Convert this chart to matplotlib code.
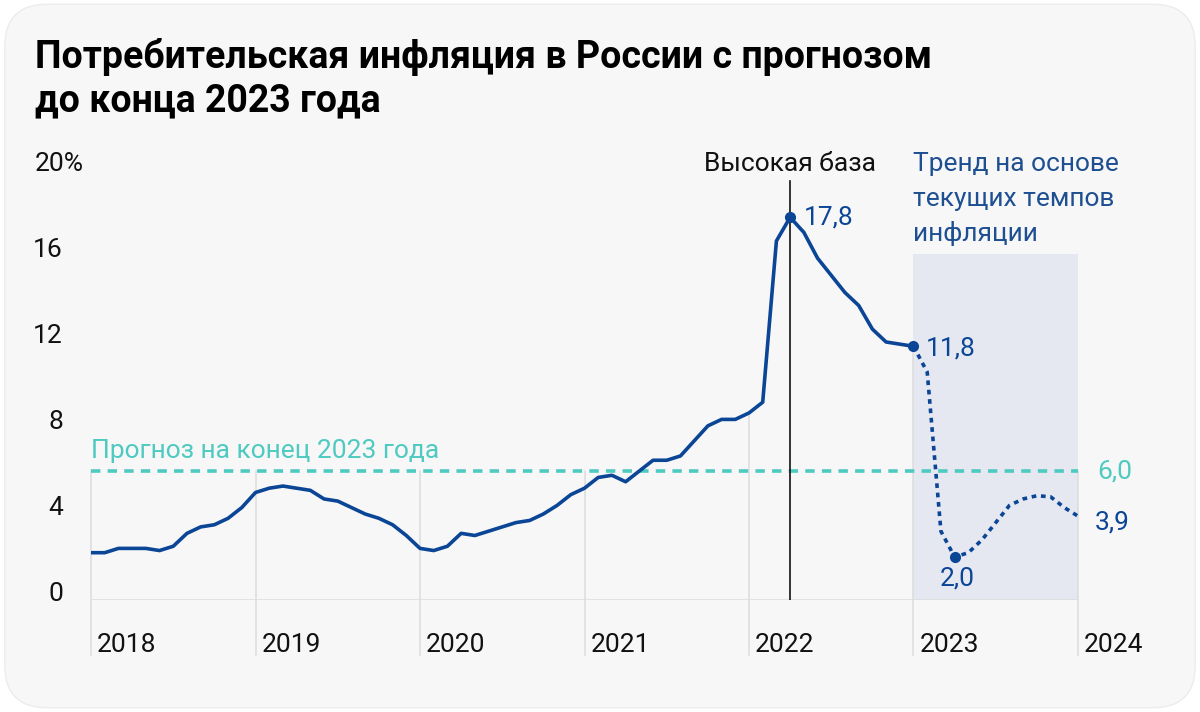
import matplotlib
matplotlib.use("Agg")
import matplotlib.pyplot as plt
from matplotlib.patches import FancyBboxPatch, Rectangle

plt.rcParams['font.family'] = ['Roboto', 'DejaVu Sans']

# ---- data ----
title = "Потребительская инфляция в России с прогнозом\nдо конца 2023 года"
years = ["2018", "2019", "2020", "2021", "2022", "2023", "2024"]
y_ticks = [0, 4, 8, 12, 16, 20]
y_tick_labels = ["0", "4", "8", "12", "16", "20%"]
trend_label = ["Тренд на основе", "текущих темпов", "инфляции"]

# monthly CPI y/y, Jan 2018 .. Jan 2023
actual = [2.2, 2.2, 2.4, 2.4, 2.4, 2.3, 2.5, 3.1, 3.4, 3.5, 3.8, 4.3,
          5.0, 5.2, 5.3, 5.2, 5.1, 4.7, 4.6, 4.3, 4.0, 3.8, 3.5, 3.0,
          2.4, 2.3, 2.5, 3.1, 3.0, 3.2, 3.4, 3.6, 3.7, 4.0, 4.4, 4.9,
          5.2, 5.7, 5.8, 5.5, 6.0, 6.5, 6.5, 6.7, 7.4, 8.1, 8.4, 8.4,
          8.7, 9.2, 16.7, 17.8, 17.1, 15.9, 15.1, 14.3, 13.7, 12.6, 12.0, 11.9,
          11.8]
# trend projection, Jan 2023 .. Jan 2024
trend = [11.8, 10.6, 3.2, 2.0, 2.2, 2.8, 3.6, 4.4, 4.7, 4.85, 4.8, 4.3, 3.9]
target = 6.0
shade_top = 16.1
high_base_month = 51   # Apr 2022

navy = "#0b4596"
teal = "#4ecac0"
grid = "#dcdcdc"
FS = 19

fig = plt.figure(figsize=(12, 7.12), dpi=100)
fig.patch.set_facecolor("white")
card = FancyBboxPatch((0.004, 0.006), 0.992, 0.988,
                      boxstyle="round,pad=0,rounding_size=0.035",
                      transform=fig.transFigure, facecolor="#f7f7f8",
                      edgecolor="#ececec", linewidth=1, zorder=-5,
                      mutation_aspect=1200/712)
fig.patches.append(card)

W, H = 1200, 712
PXM = (1078 - 91) / 72.0   # px per month
PXU = 21.5                 # px per percent
ax = fig.add_axes([91 / W, (H - 600) / H, (1078 - 91) / W, 430 / H])
ax.set_zorder(2)
ax.set_xlim(0, 72)
ax.set_ylim(0, 20)
ax.axis("off")

x_act = list(range(len(actual)))
x_tr = list(range(60, 60 + len(trend)))

# shaded trend region
ax.add_patch(Rectangle((60, 0), 12, shade_top, facecolor="#e5e8f1",
                       edgecolor="none", zorder=1))

# vertical year gridlines
for i, yr in enumerate(years):
    m = i * 12
    if m < len(actual):
        v = actual[m]
    else:
        v = trend[m - 60]
    top = max(v, target)
    ax.plot([m, m], [-2.55, top], color=grid, lw=1.1, zorder=1.5, clip_on=False)
    ax.text(m + 6 / PXM, -52 / PXU, yr, ha="left", va="baseline", fontsize=FS,
            color="#111111", clip_on=False)

# baseline
ax.plot([0, 72], [0, 0], color=grid, lw=1.1, zorder=1.5)

# y tick labels
for v, lab in zip(y_ticks, y_tick_labels):
    if lab.endswith("%"):
        ax.text(-56 / PXM, v - 0.05, lab, ha="left", va="baseline",
                fontsize=FS, color="#111111", clip_on=False)
    else:
        ax.text(-28 / PXM, v - 0.05, lab, ha="right", va="baseline",
                fontsize=FS, color="#111111", clip_on=False)

# target line
ax.plot([0, 72], [target, target], color=teal, lw=2.6,
        linestyle=(0, (2.6, 2.0)), zorder=2)
ax.text(0, target + 0.6, "Прогноз на конец 2023 года", ha="left",
        va="baseline", fontsize=FS, color=teal)
ax.text(72 + 19 / PXM, target, "6,0", ha="left", va="center", fontsize=FS,
        color=teal, clip_on=False)

# high base line
ax.plot([high_base_month, high_base_month], [0, 19.5], color="#111111",
        lw=1.2, zorder=3)
ax.text(high_base_month, 19.95, "Высокая база", ha="center", va="baseline",
        fontsize=FS, color="#111111", clip_on=False)

# series
ax.plot(x_act, actual, color=navy, lw=2.6, zorder=4, solid_joinstyle="round")
ax.plot(x_tr, trend, color=navy, lw=2.6, zorder=4,
        linestyle=(0, (1.3, 1.3)))

# markers
ax.plot([51], [actual[51]], "o", color=navy, ms=7, zorder=5)
ax.plot([60], [actual[60]], "o", color=navy, ms=7, zorder=5)
ax.plot([63], [trend[3]], "o", color=navy, ms=7, zorder=5)

ax.text(51 + 14 / PXM, 17.8, "17,8", ha="left", va="center", fontsize=FS,
        color=navy)
ax.text(60 + 12 / PXM, 11.7, "11,8", ha="left", va="center", fontsize=FS,
        color=navy)
ax.text(63.2, 1.0, "2,0", ha="center", va="center", fontsize=FS, color=navy)
ax.text(72 + 17 / PXM, 3.6, "3,9", ha="left", va="center", fontsize=FS,
        color=navy, clip_on=False)

for k, line in enumerate(trend_label):
    ax.text(60, 19.95 - k * 35 / PXU, line, ha="left", va="baseline",
            fontsize=FS, color="#1d4f91", clip_on=False)

fig.text(35 / W, 1 - 38 / H, title, ha="left", va="top", fontsize=27,
         fontweight="bold", color="#000000", linespacing=1.22)

fig.savefig("out.png", dpi=100, facecolor=fig.get_facecolor())
